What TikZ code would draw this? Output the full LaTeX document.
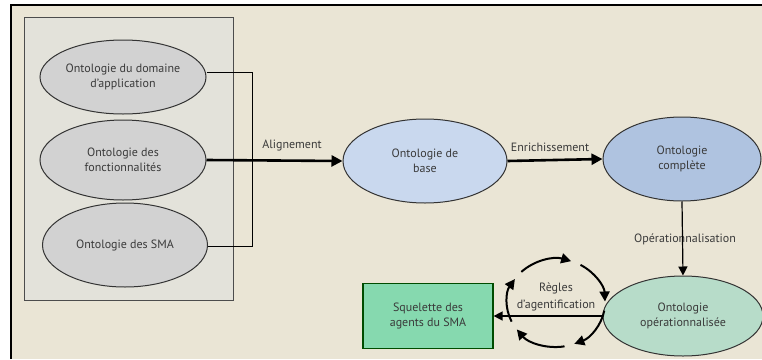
\documentclass[tikz,border=0pt]{standalone}
\usepackage{fontspec}
\setmainfont{PT Sans}
\usetikzlibrary{arrows.meta}
\definecolor{bgbeige}{HTML}{EAE5D5}
\definecolor{boxgray}{HTML}{E3E2DA}
\definecolor{ellgray}{HTML}{D2D2D2}
\definecolor{ellbase}{HTML}{C9D8EE}
\definecolor{ellfull}{HTML}{AFC3E0}
\definecolor{ellop}{HTML}{B7DCC9}
\definecolor{rectgreen}{HTML}{86D9AF}
\definecolor{txt}{HTML}{3A3A3A}
\tikzset{
  ell/.style={ellipse, draw=black!80, line width=1pt, align=center, inner sep=0pt, text=txt, font=\fontsize{12}{15}\selectfont},
  lbl/.style={text=txt, font=\fontsize{12}{15}\selectfont, inner sep=1pt},
  thickarrow/.style={line width=2.6pt, -{Triangle[length=11pt,width=11pt]}},
  thinarrow/.style={line width=1.2pt, -{Triangle[length=9pt,width=9pt]}},
  looparc/.style={line width=2pt, -{Triangle[length=10pt,width=10pt]}}
}
\usetikzlibrary{shapes.geometric}
\begin{document}
\begin{tikzpicture}[x=1pt,y=-1pt]
\useasboundingbox (0,0) rectangle (762,359);
\fill[white] (0,0) rectangle (762,359);
\fill[bgbeige] (11,5) rectangle (762,359);
\draw[line width=2pt, black] (11,359) -- (11,5) -- (762,5);
% inner box
\draw[fill=boxgray, draw=black!70, line width=1pt] (24,17) rectangle (233,300);
% nodes
\node[ell, fill=ellgray, minimum width=166pt, minimum height=74pt] (e1) at (123,77) {Ontologie du domaine\\d'application};
\node[ell, fill=ellgray, minimum width=166pt, minimum height=80pt] (e2) at (123,160) {Ontologie des\\fonctionnalités};
\node[ell, fill=ellgray, minimum width=165pt, minimum height=84pt] (e3) at (125,245) {Ontologie des SMA};
\node[ell, fill=ellbase, minimum width=164pt, minimum height=84pt] (base) at (425,161) {Ontologie de\\base};
\node[ell, fill=ellfull, minimum width=158pt, minimum height=84pt] (full) at (682,159) {Ontologie\\complète};
\node[ell, fill=ellop, minimum width=160pt, minimum height=80pt] (op) at (683,316) {Ontologie\\opérationnalisée};
\node[draw=black!70!green, fill=rectgreen, line width=1.2pt, minimum width=130pt, minimum height=65pt, align=center, text=txt, font=\fontsize{12}{15}\selectfont] (sq) at (428,316) {Squelette des\\agents du SMA};
% connectors
\coordinate (j1) at (252,72);
\coordinate (j3) at (252,246);
\draw[line width=1pt] (e1.east |- j1) -- (j1) -- (j3) -- (e3.east |- j3);
\draw[thickarrow] (e2.east) -- (base.west);
\node[lbl, above] (lal) at (292,152) {Alignement};
\draw[thickarrow] (base.east) -- (full.west);
\node[lbl, above] (len) at (550,153) {Enrichissement};
\node[lbl] (lop) at (685,239) {Opérationnalisation};
\draw[thinarrow] (full.south) -- (op.north);
\draw[line width=1.4pt, -{Triangle[length=9pt,width=9pt]}] (op.west) -- (sq.east);
% loop
\coordinate (lc) at (556,303);
\foreach \a/\b in {-135/-72, -60/-2, 10/68, 80/143, 155/213}{
  \draw[looparc] (lc) ++(\a:49 and 44) arc[start angle=\a, end angle=\b, x radius=49, y radius=44];
}
\node[lbl, align=center, font=\fontsize{12}{17}\selectfont] (lr) at (556,297) {Règles\\d'agentification};
\end{tikzpicture}
\end{document}
